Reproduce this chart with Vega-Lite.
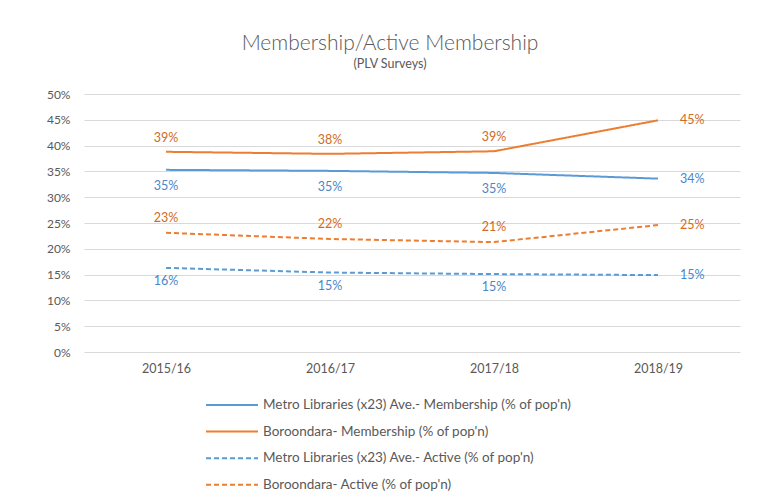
{
  "$schema": "https://vega.github.io/schema/vega-lite/v6.json",
  "width": 656,
  "height": 258,
  "autosize": {"type": "none"},
  "padding": {"left": 84, "top": 94, "right": 18, "bottom": 149},
  "background": "white",
  "title": {
    "text": "Membership/Active Membership",
    "subtitle": "(PLV Surveys)",
    "anchor": "middle",
    "dx": -22,
    "offset": 18,
    "font": "Lato",
    "fontSize": 21,
    "fontWeight": 300,
    "color": "#595959",
    "subtitleFont": "Lato",
    "subtitleFontSize": 12.5,
    "subtitleColor": "#595959",
    "subtitlePadding": 4
  },
  "data": {
    "values": [
      {"year": "2015/16", "series": "Metro Libraries (x23) Ave.- Membership (% of pop'n)", "value": 0.353},
      {"year": "2016/17", "series": "Metro Libraries (x23) Ave.- Membership (% of pop'n)", "value": 0.351},
      {"year": "2017/18", "series": "Metro Libraries (x23) Ave.- Membership (% of pop'n)", "value": 0.347},
      {"year": "2018/19", "series": "Metro Libraries (x23) Ave.- Membership (% of pop'n)", "value": 0.336},
      {"year": "2015/16", "series": "Boroondara- Membership (% of pop'n)", "value": 0.388},
      {"year": "2016/17", "series": "Boroondara- Membership (% of pop'n)", "value": 0.384},
      {"year": "2017/18", "series": "Boroondara- Membership (% of pop'n)", "value": 0.389},
      {"year": "2018/19", "series": "Boroondara- Membership (% of pop'n)", "value": 0.449},
      {"year": "2015/16", "series": "Metro Libraries (x23) Ave.- Active (% of pop'n)", "value": 0.163},
      {"year": "2016/17", "series": "Metro Libraries (x23) Ave.- Active (% of pop'n)", "value": 0.154},
      {"year": "2017/18", "series": "Metro Libraries (x23) Ave.- Active (% of pop'n)", "value": 0.151},
      {"year": "2018/19", "series": "Metro Libraries (x23) Ave.- Active (% of pop'n)", "value": 0.149},
      {"year": "2015/16", "series": "Boroondara- Active (% of pop'n)", "value": 0.231},
      {"year": "2016/17", "series": "Boroondara- Active (% of pop'n)", "value": 0.219},
      {"year": "2017/18", "series": "Boroondara- Active (% of pop'n)", "value": 0.213},
      {"year": "2018/19", "series": "Boroondara- Active (% of pop'n)", "value": 0.246}
    ]
  },
  "encoding": {
    "x": {
      "field": "year",
      "type": "ordinal",
      "scale": {"type": "point", "padding": 0.5},
      "axis": {
        "title": null,
        "labelAngle": 0,
        "domain": false,
        "ticks": false,
        "grid": false,
        "labelPadding": 10,
        "labelFont": "Lato",
        "labelFontSize": 12.5,
        "labelColor": "#595959"
      }
    },
    "y": {
      "field": "value",
      "type": "quantitative",
      "scale": {"domain": [0, 0.5], "nice": false},
      "axis": {
        "title": null,
        "format": ".0%",
        "values": [0, 0.05, 0.1, 0.15, 0.2, 0.25, 0.3, 0.35, 0.4, 0.45, 0.5],
        "domain": false,
        "ticks": false,
        "labelPadding": 14,
        "labelFont": "Lato",
        "labelFontSize": 12,
        "labelColor": "#595959",
        "gridColor": "#d9d9d9",
        "gridWidth": 1
      }
    }
  },
  "layer": [
    {
      "mark": {"type": "line", "strokeWidth": 2},
      "encoding": {
        "color": {
          "field": "series",
          "type": "nominal",
          "scale": {
            "domain": ["Metro Libraries (x23) Ave.- Membership (% of pop'n)", "Boroondara- Membership (% of pop'n)", "Metro Libraries (x23) Ave.- Active (% of pop'n)", "Boroondara- Active (% of pop'n)"],
            "range": ["#5b9bd5", "#ed7d31", "#5b9bd5", "#ed7d31"]
          },
          "legend": {
            "orient": "none",
            "legendX": 121,
            "legendY": 303,
            "direction": "vertical",
            "title": null,
            "symbolType": "stroke",
            "symbolSize": 2704,
            "symbolStrokeWidth": 2,
            "clipHeight": 16,
            "rowPadding": 10.6,
            "labelFont": "Lato",
            "labelFontSize": 13.5,
            "labelColor": "#595959",
            "labelOffset": 4,
            "labelLimit": 500
          }
        },
        "strokeDash": {
          "field": "series",
          "type": "nominal",
          "scale": {
            "domain": ["Metro Libraries (x23) Ave.- Membership (% of pop'n)", "Boroondara- Membership (% of pop'n)", "Metro Libraries (x23) Ave.- Active (% of pop'n)", "Boroondara- Active (% of pop'n)"],
            "range": [[1, 0], [1, 0], [5, 3], [5, 3]]
          },
          "legend": {
            "orient": "none",
            "legendX": 121,
            "legendY": 303,
            "direction": "vertical",
            "title": null,
            "symbolType": "stroke",
            "symbolSize": 2704,
            "symbolStrokeWidth": 2,
            "clipHeight": 16,
            "rowPadding": 10.6,
            "labelFont": "Lato",
            "labelFontSize": 13.5,
            "labelColor": "#595959",
            "labelOffset": 4,
            "labelLimit": 500
          }
        }
      }
    },
    {
      "transform": [{"filter": {"and": [{"field": "series", "equal": "Boroondara- Membership (% of pop'n)"}, {"not": {"field": "year", "equal": "2018/19"}}]}}],
      "mark": {"type": "text", "dy": -14, "font": "Lato", "fontSize": 12.5, "color": "#d06a27"},
      "encoding": {"text": {"field": "value", "type": "quantitative", "format": ".0%"}}
    },
    {
      "transform": [{"filter": {"and": [{"field": "series", "equal": "Boroondara- Active (% of pop'n)"}, {"not": {"field": "year", "equal": "2018/19"}}]}}],
      "mark": {"type": "text", "dy": -15, "font": "Lato", "fontSize": 12.5, "color": "#d06a27"},
      "encoding": {"text": {"field": "value", "type": "quantitative", "format": ".0%"}}
    },
    {
      "transform": [{"filter": {"and": [{"field": "series", "equal": "Metro Libraries (x23) Ave.- Membership (% of pop'n)"}, {"not": {"field": "year", "equal": "2018/19"}}]}}],
      "mark": {"type": "text", "dy": 16, "font": "Lato", "fontSize": 12.5, "color": "#4a86c8"},
      "encoding": {"text": {"field": "value", "type": "quantitative", "format": ".0%"}}
    },
    {
      "transform": [{"filter": {"and": [{"field": "series", "equal": "Metro Libraries (x23) Ave.- Active (% of pop'n)"}, {"not": {"field": "year", "equal": "2018/19"}}]}}],
      "mark": {"type": "text", "dy": 13, "font": "Lato", "fontSize": 12.5, "color": "#4a86c8"},
      "encoding": {"text": {"field": "value", "type": "quantitative", "format": ".0%"}}
    },
    {
      "transform": [{"filter": {"and": [{"field": "year", "equal": "2018/19"}, {"field": "series", "oneOf": ["Boroondara- Membership (% of pop'n)", "Boroondara- Active (% of pop'n)"]}]}}],
      "mark": {"type": "text", "align": "left", "dx": 22, "font": "Lato", "fontSize": 12.5, "color": "#d06a27"},
      "encoding": {"text": {"field": "value", "type": "quantitative", "format": ".0%"}}
    },
    {
      "transform": [{"filter": {"and": [{"field": "year", "equal": "2018/19"}, {"field": "series", "oneOf": ["Metro Libraries (x23) Ave.- Membership (% of pop'n)", "Metro Libraries (x23) Ave.- Active (% of pop'n)"]}]}}],
      "mark": {"type": "text", "align": "left", "dx": 22, "font": "Lato", "fontSize": 12.5, "color": "#4a86c8"},
      "encoding": {"text": {"field": "value", "type": "quantitative", "format": ".0%"}}
    }
  ],
  "config": {"view": {"stroke": null}}
}
